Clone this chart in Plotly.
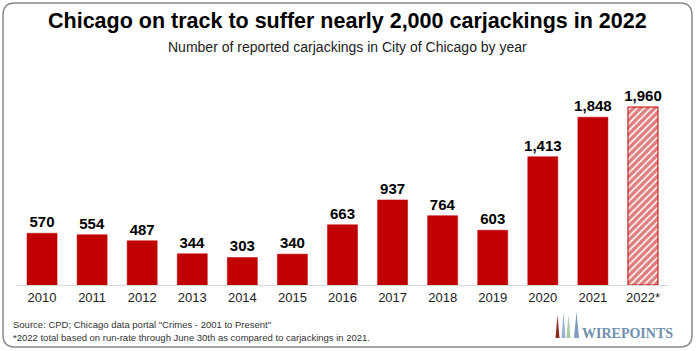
import plotly.graph_objects as go

years = ["2010", "2011", "2012", "2013", "2014", "2015", "2016", "2017", "2018", "2019", "2020", "2021", "2022*"]
counts = [570, 554, 487, 344, 303, 340, 663, 937, 764, 603, 1413, 1848, 1960]
labels = [f"<b>{v:,}</b>" for v in counts]

W, H = 696, 351
L, R, T, B = 17, 28, 60, 66
PW, PH = W - L - R, H - T - B
RED = "#C00000"


def px(x):
    return (x - L) / PW


def py(y):
    return (H - B - y) / PH


fig = go.Figure()
fig.add_trace(go.Bar(
    x=years[:-1], y=counts[:-1], text=labels[:-1], textposition="outside",
    marker=dict(color=RED, line=dict(color=RED, width=0.5)),
    textfont=dict(family="Arial", size=15, color="#000000"),
    constraintext="none", cliponaxis=False, showlegend=False,
))
fig.add_trace(go.Bar(
    x=years[-1:], y=counts[-1:], text=labels[-1:], textposition="outside",
    marker=dict(color="white", line=dict(color=RED, width=1),
                pattern=dict(shape="/", fgcolor=RED, bgcolor="white", size=5, solidity=0.7)),
    textfont=dict(family="Arial", size=15, color="#000000"),
    constraintext="none", cliponaxis=False, showlegend=False,
))

# rounded border
x0, x1, y0, y1, r = px(3), px(692), py(3), py(347), 12
rx, ry = r / PW, r / PH
path = (f"M {x0+rx},{y0} L {x1-rx},{y0} Q {x1},{y0} {x1},{y0-ry} "
        f"L {x1},{y1+ry} Q {x1},{y1} {x1-rx},{y1} L {x0+rx},{y1} "
        f"Q {x0},{y1} {x0},{y1+ry} L {x0},{y0-ry} Q {x0},{y0} {x0+rx},{y0} Z")
shapes = [dict(type="path", xref="paper", yref="paper", path=path,
               line=dict(color="#8a8a8a", width=1.5))]


def tri(xl, xr, ytop, ybot, color):
    return dict(type="path", xref="paper", yref="paper",
                path=f"M {px(xl)},{py(ybot)} L {px(xr)},{py(ybot)} L {px((xl+xr)/2)},{py(ytop)} Z",
                fillcolor=color, line=dict(width=0))


shapes += [
    tri(555.5, 559.5, 315, 338, "#8B2A1E"),
    tri(561.5, 565.5, 312, 338, "#9DB3CF"),
    tri(566.5, 570.5, 314, 338, "#A8CBA8"),
    tri(574, 579, 312, 338, "#7F9CC0"),
]

annotations = [
    dict(text="<b>Chicago on track to suffer nearly 2,000 carjackings in 2022</b>",
         x=px(347), y=py(21), xref="paper", yref="paper", showarrow=False,
         font=dict(family="Arial", size=21.5, color="#000000"), xanchor="center", yanchor="middle"),
    dict(text="Number of reported carjackings in City of Chicago by year",
         x=px(348), y=py(47), xref="paper", yref="paper", showarrow=False,
         font=dict(family="Arial", size=14, color="#222222"), xanchor="center", yanchor="middle"),
    dict(text='Source: CPD; Chicago data portal "Crimes - 2001 to Present"',
         x=px(11), y=py(324), xref="paper", yref="paper", showarrow=False,
         font=dict(family="Arial", size=9.5, color="#333333"), xanchor="left", yanchor="middle"),
    dict(text="*2022 total based on run-rate through June 30th as compared to carjackings in 2021.",
         x=px(11), y=py(337), xref="paper", yref="paper", showarrow=False,
         font=dict(family="Arial", size=9.5, color="#333333"), xanchor="left", yanchor="middle"),
    dict(text="<b>WIREPOINTS</b>",
         x=px(580), y=py(333), xref="paper", yref="paper", showarrow=False,
         font=dict(family="Liberation Serif", size=14, color="#6F8FB0"), xanchor="left", yanchor="middle"),
]

fig.update_layout(
    width=W, height=H,
    margin=dict(l=L, r=R, t=T, b=B),
    paper_bgcolor="white", plot_bgcolor="white",
    bargap=0.4, barmode="group",
    shapes=shapes, annotations=annotations,
    font=dict(family="Arial"),
    xaxis=dict(showgrid=False, showline=True, linecolor="#d9d9d9", linewidth=1,
               ticks="", tickfont=dict(family="Arial", size=13, color="#222222"),
               fixedrange=True, categoryorder="array", categoryarray=years),
    yaxis=dict(range=[0, PH / 0.0908], visible=False, fixedrange=True),
)

fig.write_html("out.html", include_plotlyjs=True, config={"displayModeBar": False})
